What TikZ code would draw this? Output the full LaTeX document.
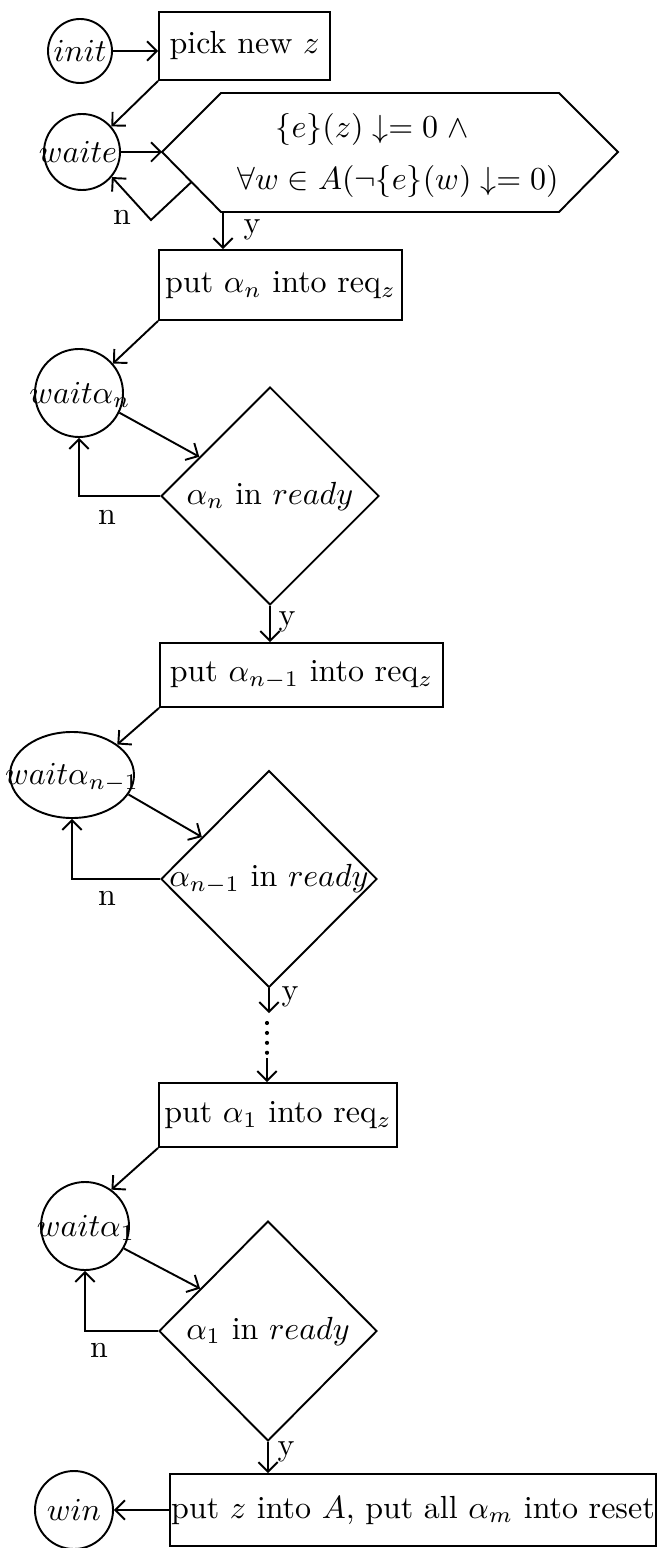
\documentclass[tikz,border=0pt]{standalone}
\usetikzlibrary{shapes.geometric,arrows.meta,calc}
\newcommand\pxu{0.3125pt}
\begin{document}
\begin{tikzpicture}[x=0.3125pt,y=-0.3125pt,
  ln/.style={line width=0.6pt},
  arr/.style={ln,-{Straight Barb[length=3pt,width=6pt]}},
  boxnode/.style={draw,ln,rectangle,inner sep=0pt},
  circnode/.style={draw,ln,circle,inner sep=0pt},
  dia/.style={draw,ln,diamond,inner sep=0pt},
  lbl/.style={inner sep=0pt}]
\useasboundingbox (0,0) rectangle (658,1548);

% --- top
\node[circnode,minimum size=64*\pxu] (ci) at (80,51) {};
\node[lbl] (ti) at (ci) {$init$};
\node[boxnode,minimum width=171*\pxu,minimum height=68*\pxu] (pick) at (244.5,46) {pick new $z$};
\node[circnode,minimum size=76*\pxu] (ww) at (82,152) {};
\node[lbl] (tw) at (78,152) {$waite$};

\coordinate (hL) at (162,152);
\coordinate (hTL) at (221,93);
\coordinate (hTR) at (559,93);
\coordinate (hR) at (618,152);
\coordinate (hBR) at (559,212);
\coordinate (hBL) at (221,212);
\draw[ln] (hL) -- (hTL) -- (hTR) -- (hR) -- (hBR) -- (hBL) -- cycle;
\node[lbl] (h1) at (372,130) {$\{e\}(z)\downarrow= 0 \;\wedge$};
\node[lbl] (h2) at (398,182) {$\forall w\in A(\neg\{e\}(w)\downarrow= 0)$};

\draw[arr] (ci.east) -- (ci.east -| pick.west);
\draw[arr] (pick.south west) -- (ww.41);
\draw[arr] (ww.east) -- (hL);
\coordinate (hN) at ($(hL)!0.5!(hBL)$);
\coordinate (nB) at (151,220);
\draw[arr] (hN) -- (nB) -- (ww.-40);
\node[lbl] (n0) at (122,217) {n};

% --- alpha_n
\node[boxnode,minimum width=243*\pxu,minimum height=70*\pxu] (b1) at (280.5,285) {put $\alpha_n$ into req$_z$};
\coordinate (hY) at (223,212);
\draw[arr] (hY) -- (hY |- b1.north);
\node[lbl] (y0) at (252,230) {y};

\node[circnode,minimum size=88*\pxu] (w1) at (79,393) {};
\node[lbl] (tw1) at (80,395) {$wait\alpha_n$};
\node[dia,minimum width=218*\pxu,minimum height=218*\pxu] (d1) at (270,496) {};
\node[lbl] (td1) at (d1) {$\alpha_n$ in $ready$};
\draw[arr] (b1.south west) -- (w1.41);
\draw[arr] (w1.-26) -- (d1.151);
\draw[arr] (d1.west) -| (w1.south);
\node[lbl] (n1) at (107,517) {n};

% --- alpha_{n-1}
\node[boxnode,minimum width=283*\pxu,minimum height=64*\pxu] (b2) at (301.5,675) {put $\alpha_{n-1}$ into req$_z$};
\draw[arr] (d1.south) -- (d1.south |- b2.north);
\node[lbl] (y1) at (287,622) {y};
\node[draw,ln,ellipse,inner sep=0pt,minimum width=124*\pxu,minimum height=86*\pxu] (e2) at (72,775) {};
\node[lbl] (te2) at (72,778) {$wait\alpha_{n-1}$};
\node[dia,minimum width=216*\pxu,minimum height=217*\pxu] (d2) at (269,879) {};
\node[lbl] (td2) at (d2) {$\alpha_{n-1}$ in $ready$};
\draw[arr] (b2.south west) -- (e2.34);
\draw[arr] (e2.-19) -- (d2.148);
\draw[arr] (d2.west) -| (e2.south);
\node[lbl] (n2) at (107,898) {n};

% --- dots
\coordinate (c1) at (269,1013);
\coordinate (c2) at (267,1023);
\coordinate (c3) at (267,1053);
\coordinate (c4) at (267,1058);
\draw[arr] (d2.south) -- (c1);
\node[lbl] (y2) at (290,997) {y};
\draw[line width=1.3pt,line cap=round,dash pattern=on 0pt off 3.1pt] (c2) -- (c3);

% --- alpha_1
\node[boxnode,minimum width=238*\pxu,minimum height=64*\pxu] (b4) at (278,1115) {put $\alpha_1$ into req$_z$};
\draw[arr] (c4) -- (c4 |- b4.north);
\node[circnode,minimum size=88*\pxu] (w4) at (85,1226) {};
\node[lbl] (tw4) at (86,1228) {$wait\alpha_1$};
\node[dia,minimum width=218*\pxu,minimum height=220*\pxu] (d4) at (268,1331) {};
\node[lbl] (td4) at (d4) {$\alpha_1$ in $ready$};
\draw[arr] (b4.south west) -- (w4.54);
\draw[arr] (w4.-30) -- (d4.148);
\draw[arr] (d4.west) -| (w4.south);
\node[lbl] (n4) at (99,1350) {n};

% --- final
\node[boxnode,minimum width=486*\pxu,minimum height=72*\pxu] (b5) at (413,1510) {put $z$ into $A$, put all $\alpha_m$ into reset};
\draw[arr] (d4.south) -- (d4.south |- b5.north);
\node[lbl] (y4) at (286,1452) {y};
\node[circnode,minimum size=78*\pxu] (win) at (74,1510) {};
\node[lbl] (twin) at (win) {$win$};
\draw[arr] (b5.west) -- (win.east);
\end{tikzpicture}
\end{document}
